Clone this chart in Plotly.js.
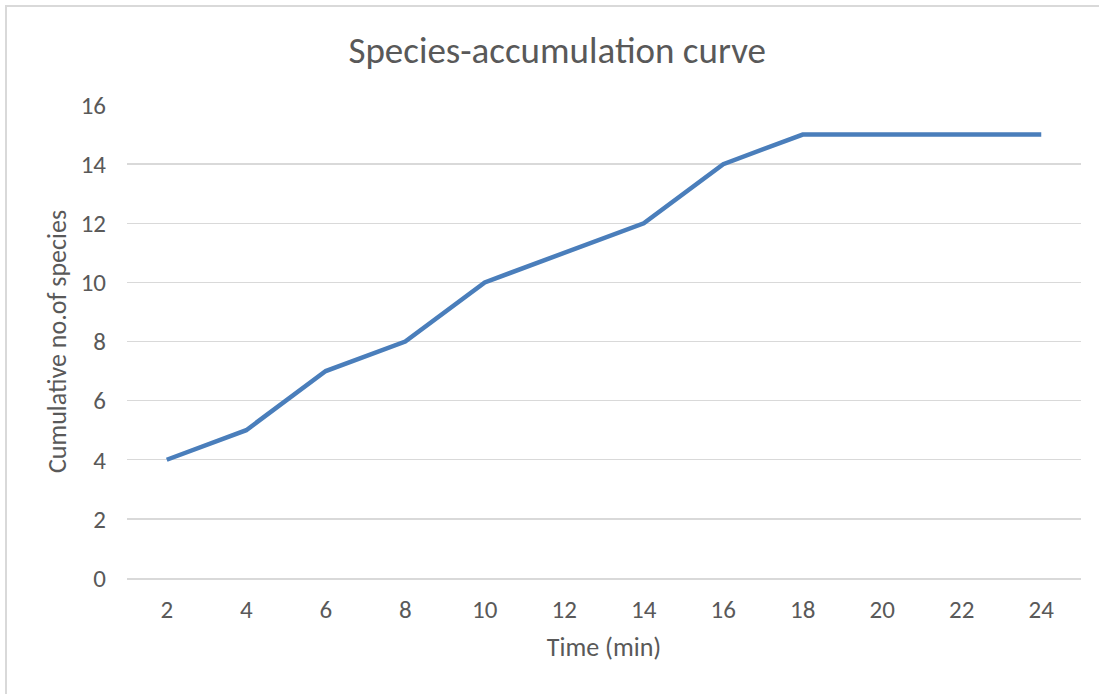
<!DOCTYPE html>
<html>
<head>
<meta charset="utf-8">
<script src="https://cdn.plot.ly/plotly-3.0.1.min.js"></script>
<style>
  html, body { margin: 0; padding: 0; background: #fff; overflow: hidden; }
  #frame { position: absolute; left: 5px; top: 5px; width: 1200px; height: 800px; border: 2px solid #d9d9d9; }
  #chart { position: absolute; left: 0; top: 0; width: 1099px; height: 694px; }
</style>
</head>
<body>
<div id="frame"></div>
<div id="chart"></div>
<script>
const timeMin = ["2", "4", "6", "8", "10", "12", "14", "16", "18", "20", "22", "24"];
const cumulativeSpecies = [4, 5, 7, 8, 10, 11, 12, 14, 15, 15, 15, 15];
const yTicks = [0, 2, 4, 6, 8, 10, 12, 14, 16];

const font = "Calibri, Carlito, Lato, sans-serif";

Plotly.newPlot('chart', [{
  x: timeMin,
  y: cumulativeSpecies,
  type: 'scatter',
  mode: 'lines',
  line: { color: '#4a7ebb', width: 4.5 },
  hoverinfo: 'skip'
}], {
  width: 1099, height: 694,
  paper_bgcolor: 'rgba(0,0,0,0)',
  plot_bgcolor: 'rgba(0,0,0,0)',
  margin: { l: 127, r: 18, t: 105, b: 116 },
  showlegend: false,
  title: { text: 'Species-accumulation curve', x: 0.507, xanchor: 'center', y: 0.928, yanchor: 'middle',
           font: { family: font, size: 37, color: '#595959' } },
  xaxis: {
    type: 'category',
    range: [-0.5, 11.5],
    showgrid: false, zeroline: false,
    showline: true, linecolor: '#d9d9d9', linewidth: 1.5,
    ticks: '',
    ticklabelstandoff: 8,
    tickfont: { family: font, size: 25, color: '#595959' },
    title: { text: 'Time (min)', font: { family: font, size: 26, color: '#595959' }, standoff: 14 }
  },
  yaxis: {
    range: [0, 16],
    tickvals: yTicks,
    showgrid: true, gridcolor: '#d9d9d9', gridwidth: 1.3,
    zeroline: false, showline: false,
    ticks: '', ticklen: 0,
    ticklabelstandoff: 20,
    tickfont: { family: font, size: 25, color: '#595959' },
    title: { text: 'Cumulative no.of species', font: { family: font, size: 26, color: '#595959' }, standoff: 6 }
  }
}, { displayModeBar: false, staticPlot: true });
</script>
</body>
</html>
